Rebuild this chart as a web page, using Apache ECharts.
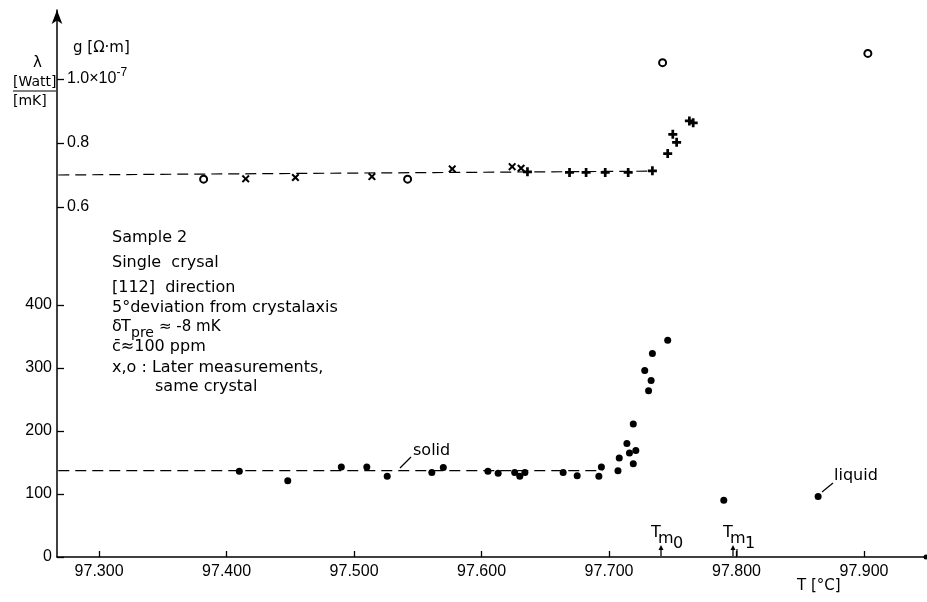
<!DOCTYPE html>
<html>
<head>
<meta charset="utf-8">
<script src="https://cdn.jsdelivr.net/npm/echarts@6/dist/echarts.min.js"></script>
<style>
html,body{margin:0;padding:0;background:#fff}
#main{width:927px;height:602px}
</style>
</head>
<body>
<div id="main"></div>
<script>
// thermal conductivity lambda [W/mK] (filled dots)
let lambdaT = [97.410, 97.448, 97.490, 97.510, 97.526, 97.561, 97.570, 97.605, 97.613, 97.626,
               97.630, 97.634, 97.664, 97.675, 97.692, 97.694, 97.707, 97.708, 97.714, 97.716,
               97.719, 97.721, 97.719, 97.728, 97.731, 97.733, 97.734, 97.746, 97.790, 97.864];
let lambdaV = [136, 121, 143, 143, 128, 134, 142, 136, 133, 134,
               128, 134, 134, 129, 128, 143, 137, 157, 180, 165,
               148, 169, 211, 296, 264, 280, 323, 344, 90, 96];
// resistivity rho [1e-7 Ohm m]
let rhoCircleT = [97.382, 97.542, 97.742, 97.903];
let rhoCircleV = [0.687, 0.687, 1.051, 1.080];
let rhoCrossT = [97.415, 97.454, 97.514, 97.577, 97.624, 97.631];
let rhoCrossV = [0.688, 0.692, 0.695, 0.719, 0.726, 0.721];
let rhoPlusT = [97.636, 97.669, 97.682, 97.697, 97.715, 97.734, 97.746, 97.753, 97.750, 97.763, 97.766];
let rhoPlusV = [0.710, 0.708, 0.708, 0.708, 0.708, 0.713, 0.767, 0.802, 0.827, 0.869, 0.863];
// dashed guide lines
let lambdaFitT = [97.268, 97.695];
let lambdaFitV = [137, 137];
let rhoFitT = [97.268, 97.734];
let rhoFitV = [0.700, 0.712];
// melting temperatures
let tmT = [97.741, 97.797];
let tmNames = ['0', '1'];
// ticks
let xTicks = [97.3, 97.4, 97.5, 97.6, 97.7, 97.8, 97.9];
let lambdaTicks = [0, 100, 200, 300, 400];
let rhoTicks = [0.6, 0.8, 1.0];

function pairs(a, b) { return a.map((t, i) => [t, b[i]]); }

const FONT = 'DejaVu Sans';
const NUMFONT = 'Liberation Sans';
let chart = echarts.init(document.getElementById('main'));

let crossPath = 'path://M0,1.8L1.8,0L5,3.2L8.2,0L10,1.8L6.8,5L10,8.2L8.2,10L5,6.8L1.8,10L0,8.2L3.2,5Z';
let plusPath = 'path://M3.5,0H6.5V3.5H10V6.5H6.5V10H3.5V6.5H0V3.5H3.5Z';

let option = {
  animation: false,
  grid: {left: 57, right: 1, top: 10, bottom: 45},
  xAxis: {
    type: 'value', min: 97.267, max: 97.9486,
    axisLine: {lineStyle: {color: '#000', width: 1.5}, symbol: ['none', 'circle'], symbolSize: [5, 5]},
    axisTick: {inside: true, length: 6, customValues: xTicks, lineStyle: {color: '#000', width: 1.3}},
    axisLabel: {customValues: xTicks, formatter: v => v.toFixed(3), color: '#000',
                fontFamily: NUMFONT, fontSize: 16, margin: 7},
    splitLine: {show: false}
  },
  yAxis: [{
    type: 'value', min: 0, max: 868,
    axisLine: {show: true, lineStyle: {color: '#000', width: 1.5}, symbol: ['none', 'arrow'], symbolSize: [8, 14]},
    axisTick: {inside: true, length: 7, customValues: lambdaTicks, lineStyle: {color: '#000', width: 1.3}},
    axisLabel: {customValues: lambdaTicks, color: '#000', fontFamily: NUMFONT, fontSize: 16, margin: 5},
    splitLine: {show: false}
  }, {
    type: 'value', position: 'left', min: -0.4938, max: 1.2156,
    axisLine: {show: false},
    axisTick: {show: true, inside: true, length: 7, customValues: rhoTicks, lineStyle: {color: '#000', width: 1.3}},
    axisLabel: {
      inside: true, customValues: rhoTicks, margin: 10, color: '#000',
      fontFamily: NUMFONT, fontSize: 16,
      formatter: v => Math.abs(v - 1) < 1e-6 ? '{a|1.0×10}{s|-7}' : v.toFixed(1),
      rich: {
        a: {fontFamily: NUMFONT, fontSize: 16, color: '#000'},
        s: {fontFamily: NUMFONT, fontSize: 12, color: '#000', padding: [0, 0, 12, 0]}
      }
    },
    splitLine: {show: false}
  }],
  series: [{
    type: 'line', data: pairs(lambdaFitT, lambdaFitV), yAxisIndex: 0, symbol: 'none', silent: true,
    lineStyle: {color: '#000', width: 1.2, type: [11, 6]}
  }, {
    type: 'line', data: pairs(rhoFitT, rhoFitV), yAxisIndex: 1, symbol: 'none', silent: true,
    lineStyle: {color: '#000', width: 1.2, type: [11, 6]}
  }, {
    type: 'scatter', data: pairs(lambdaT, lambdaV), yAxisIndex: 0,
    symbol: 'circle', symbolSize: 7, itemStyle: {color: '#000', opacity: 1}
  }, {
    type: 'scatter', data: pairs(rhoCircleT, rhoCircleV), yAxisIndex: 1,
    symbol: 'emptyCircle', symbolSize: 7, itemStyle: {color: '#000', opacity: 1}
  }, {
    type: 'scatter', data: pairs(rhoCrossT, rhoCrossV), yAxisIndex: 1,
    symbol: crossPath, symbolSize: 8, itemStyle: {color: '#000', opacity: 1}
  }, {
    type: 'scatter', data: pairs(rhoPlusT, rhoPlusV), yAxisIndex: 1,
    symbol: plusPath, symbolSize: 9, itemStyle: {color: '#000', opacity: 1}
  }]
};
chart.setOption(option);

function txt(x, y, s, size, font) {
  return {type: 'text', x: x, y: y, silent: true,
          style: {text: s, fill: '#000', font: (size || 16) + 'px "' + (font || FONT) + '"', verticalAlign: 'middle'}};
}
function seg(x1, y1, x2, y2, w) {
  return {type: 'line', silent: true, shape: {x1: x1, y1: y1, x2: x2, y2: y2}, style: {stroke: '#000', lineWidth: w || 1.2}};
}

let g = [
  txt(73, 48, 'g [Ω·m]', 15),
  txt(33, 63, 'λ', 15),
  txt(13, 82, '[Watt]', 14),
  seg(13, 91, 56, 91, 1.2),
  txt(13, 101, '[mK]', 14),
  txt(112, 238, 'Sample 2'),
  txt(112, 263, 'Single  crysal'),
  txt(112, 288, '[112]  direction'),
  txt(112, 308, '5°deviation from crystalaxis'),
  txt(112, 327, 'δ'),
  txt(121, 327, 'T'),
  txt(131, 333, 'pre', 14),
  txt(159, 327, '≈ -8 mK', 15),
  txt(112, 347, 'c̄≈100 ppm'),
  txt(112, 368, 'x,o : Later measurements,'),
  txt(155, 387, 'same crystal'),
  txt(413, 451, 'solid'),
  seg(400, 468, 411, 457),
  txt(834, 476, 'liquid'),
  seg(822, 492, 833, 483),
  txt(797, 586, 'T [°C]', 15)
];

// Tm arrows on the temperature axis
let axisY = chart.convertToPixel({yAxisIndex: 0}, 0);
tmT.forEach((t, i) => {
  let px = Math.round(chart.convertToPixel({xAxisIndex: 0}, t));
  g.push(seg(px, axisY - 1, px, axisY - 8, 1.3));
  g.push({type: 'polygon', silent: true, shape: {points: [[px - 2.5, axisY - 7], [px + 2.5, axisY - 7], [px, axisY - 12]]},
          style: {fill: '#000'}});
  if (i === 1) g.push(seg(px + 4, axisY - 1, px + 4, axisY - 8, 1.2));
  g.push(txt(px - 10, axisY - 24, 'T', 16));
  g.push(txt(px - 3, axisY - 18, 'm', 16));
  g.push(txt(px + 12, axisY - 13, tmNames[i], 16));
});

chart.setOption({graphic: g});
</script>
</body>
</html>
